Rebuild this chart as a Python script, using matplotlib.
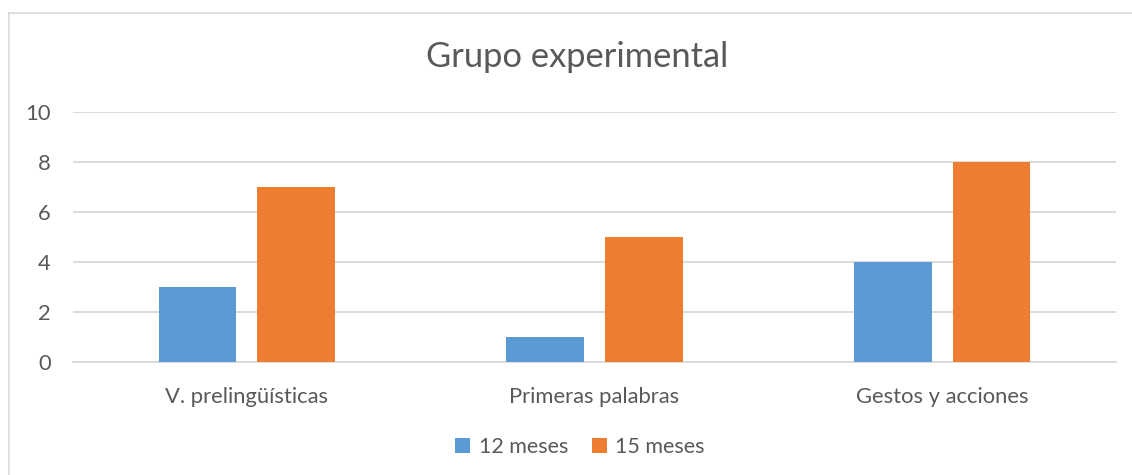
import matplotlib.pyplot as plt
import numpy as np
from matplotlib.lines import Line2D
from matplotlib.patches import Patch

categories = ["V. prelingüísticas", "Primeras palabras", "Gestos y acciones"]
meses_12 = [3, 1, 4]
meses_15 = [7, 5, 8]
series_labels = ["12 meses", "15 meses"]
yticks = [0, 2, 4, 6, 8, 10]

BLUE = "#5B9BD5"
ORANGE = "#ED7D31"
TEXT = "#595959"
GRID = "#D9D9D9"

plt.rcParams["font.family"] = ["Lato", "DejaVu Sans"]

W, H = 1132, 475
fig = plt.figure(figsize=(W / 100, H / 100), dpi=100)
ax = fig.add_axes([73 / W, (H - 362) / H, (1116 - 73) / W, 250 / H])

x = np.arange(len(categories))
width = 0.224
off = 0.142
ax.bar(x - off, meses_12, width, color=BLUE, zorder=3)
ax.bar(x + off, meses_15, width, color=ORANGE, zorder=3)

ax.set_xlim(-0.5, len(categories) - 0.5)
ax.set_ylim(0, 10)
ax.set_yticks(yticks)
ax.set_xticks(x)
ax.set_xticklabels(categories)
ax.yaxis.grid(True, color=GRID, linewidth=1.3, zorder=0)
ax.set_axisbelow(True)
for s in ["top", "right", "left"]:
    ax.spines[s].set_visible(False)
ax.spines["bottom"].set_color(GRID)
ax.spines["bottom"].set_linewidth(1.3)
ax.tick_params(axis="both", length=0, labelsize=15.8, labelcolor=TEXT)
ax.tick_params(axis="y", pad=16)
ax.tick_params(axis="x", pad=18)

fig.text(577 / W, 1 - 57 / H, "Grupo experimental", ha="center", va="center",
         fontsize=24.8, color=TEXT)

handles = [Patch(facecolor=BLUE), Patch(facecolor=ORANGE)]
fig.legend(handles, series_labels, loc="center", bbox_to_anchor=(580 / W, 1 - 447 / H),
           ncol=2, frameon=False, fontsize=15.5, labelcolor=TEXT,
           handlelength=0.7, handleheight=0.7, handletextpad=0.4, columnspacing=1.1)

# chart area border (left and top edges visible)
fig.add_artist(Line2D([9 / W, 9 / W], [0, 1 - 13 / H], color=GRID, linewidth=1.2))
fig.add_artist(Line2D([9 / W, 1], [1 - 13 / H, 1 - 13 / H], color=GRID, linewidth=1.2))

fig.savefig("out.png", dpi=100)
